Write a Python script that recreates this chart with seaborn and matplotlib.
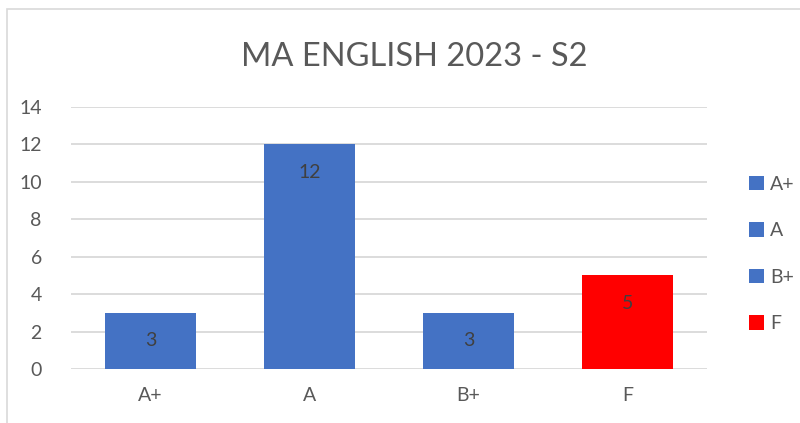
import matplotlib
matplotlib.use("Agg")
import matplotlib.pyplot as plt
import seaborn as sns
import pandas as pd
from matplotlib.patches import Rectangle, Patch

categories = ["A+", "A", "B+", "F"]
counts = [3, 12, 3, 5]
colors = ["#4472C4", "#4472C4", "#4472C4", "#FF0000"]
title = "MA ENGLISH 2023 - S2"
yticks = [0, 2, 4, 6, 8, 10, 12, 14]

sns.set_theme(style="white")
plt.rcParams['font.family'] = ['Lato', 'DejaVu Sans']

df = pd.DataFrame({"grade": categories, "count": counts})

W, H = 800, 423
fig = plt.figure(figsize=(8, 4.23), dpi=100)
fig.patch.set_facecolor("white")
# chart border (extends beyond right and bottom edges)
fig.patches.append(Rectangle((7 / W, -0.1), 1.2, 1.1 - 9 / H, transform=fig.transFigure,
                             fill=False, edgecolor="#D9D9D9", linewidth=1.2))

ax = fig.add_axes([71 / W, 1 - 369 / H, (707 - 71) / W, (369 - 107) / H])
sns.barplot(data=df, x="grade", y="count", hue="grade", palette=colors,
            order=categories, hue_order=categories, width=0.57,
            dodge=False, legend=False, ax=ax, saturation=1, linewidth=0)

ax.set_ylim(0, 14)
ax.set_yticks(yticks)
ax.set_xlim(-0.5, 3.5)
ax.yaxis.grid(True, color="#D9D9D9", linewidth=1.3)
ax.set_axisbelow(True)
for s in ax.spines.values():
    s.set_visible(False)
ax.set_xlabel("")
ax.set_ylabel("")
ax.tick_params(axis="both", length=0, labelsize=14, labelcolor="#595959")
ax.tick_params(axis="y", pad=21)
ax.tick_params(axis="x", pad=13)

for i, v in enumerate(counts):
    ax.text(i, v - 1.5, str(v), ha="center", va="center", fontsize=14, color="#404040")

fig.text(414 / W, 1 - 57 / H, title, ha="center", va="center",
         fontsize=23.5, color="#595959")

handles = [Patch(facecolor=c, edgecolor="none") for c in colors]
leg = fig.legend(handles, categories, loc="center left",
                 bbox_to_anchor=(749 / W, 1 - 254 / H), frameon=False, borderpad=0,
                 borderaxespad=0,
                 fontsize=14, labelspacing=1.52, handlelength=0.75, handleheight=0.75,
                 handletextpad=0.35)
for t in leg.get_texts():
    t.set_color("#595959")

fig.savefig("out.png", dpi=100, facecolor="white")
